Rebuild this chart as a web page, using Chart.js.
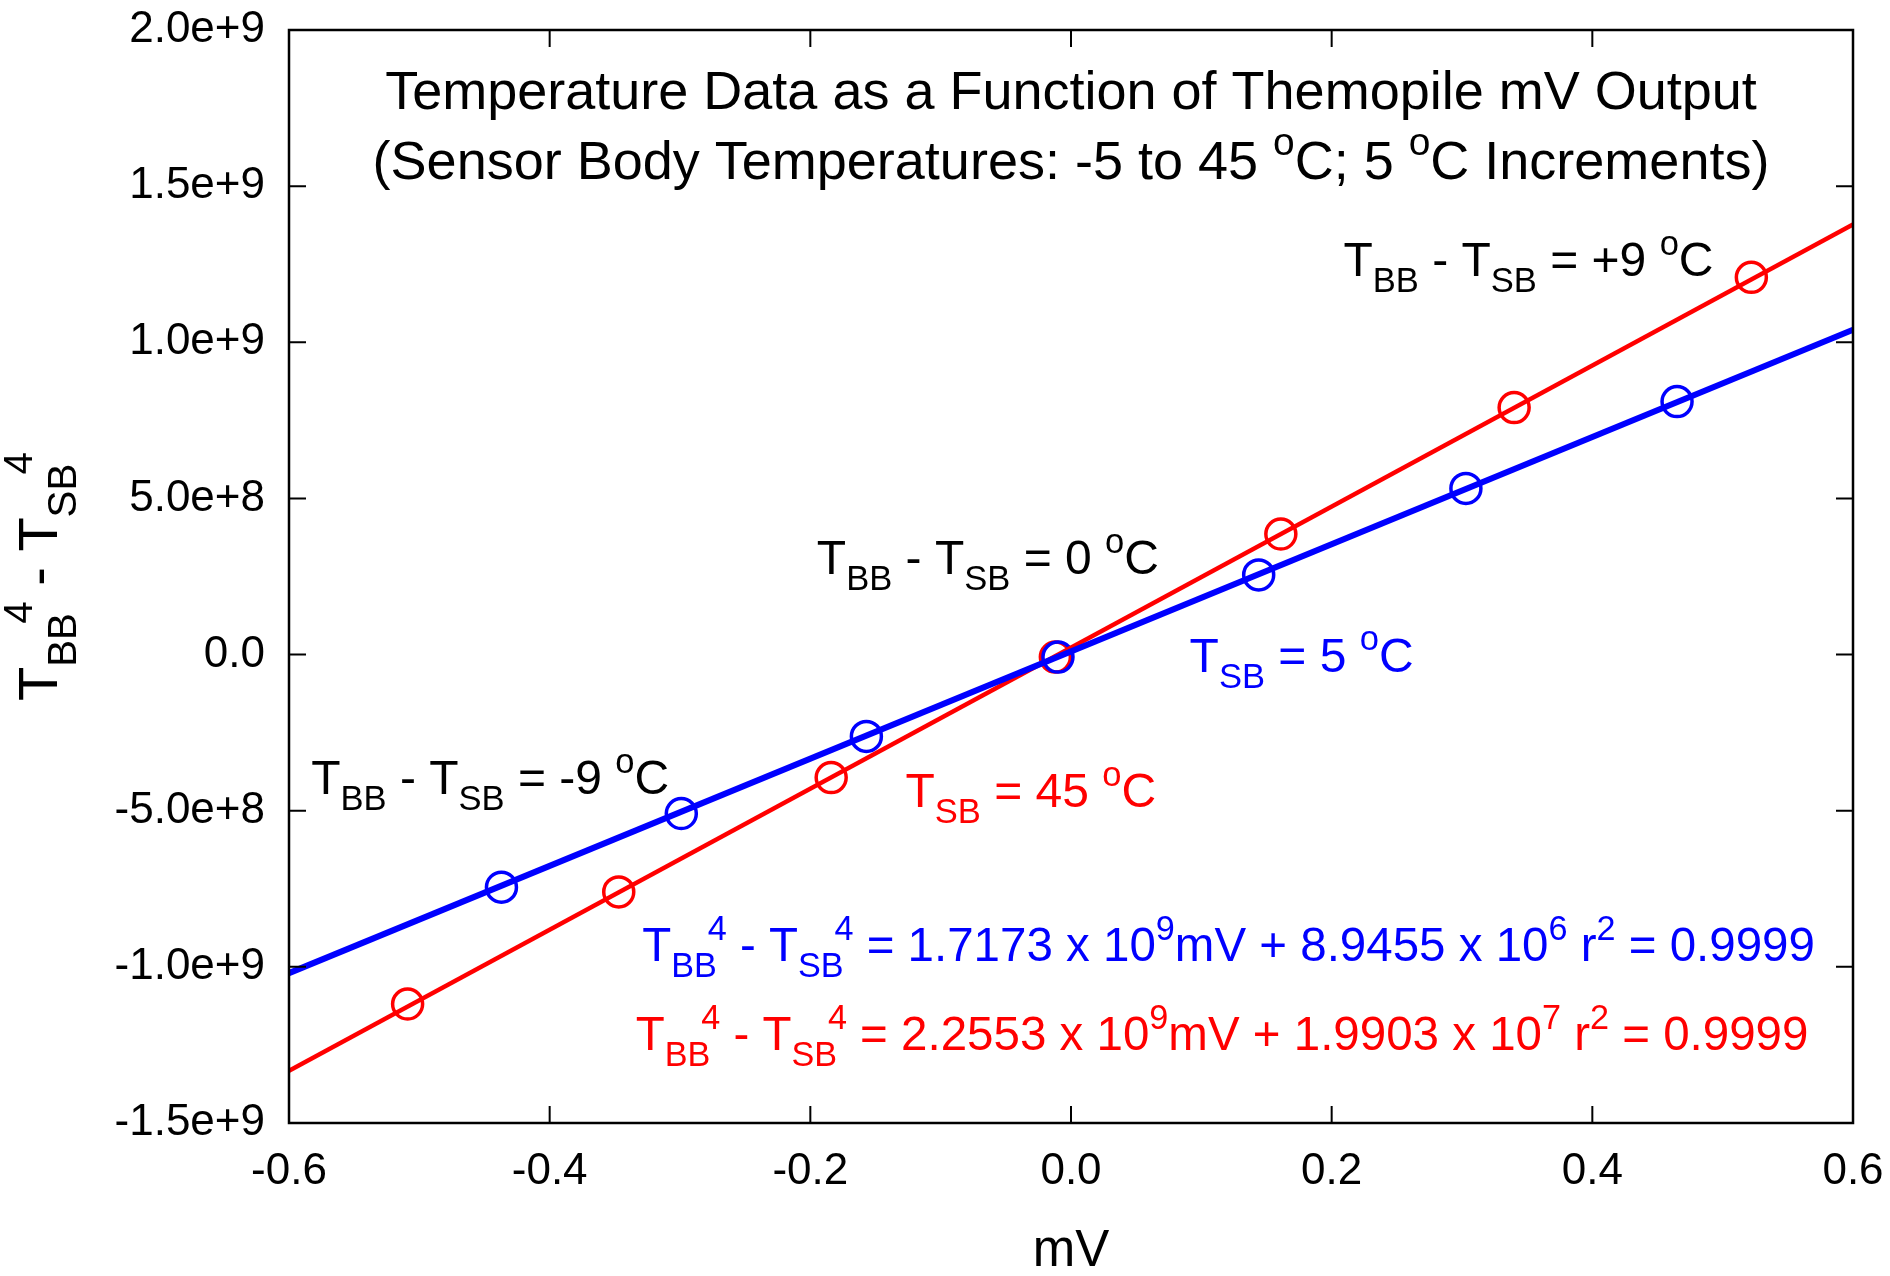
<!DOCTYPE html>
<html>
<head>
<meta charset="utf-8">
<title>Thermopile mV output</title>
<script src="https://cdn.jsdelivr.net/npm/chart.js@4.4.0/dist/chart.umd.min.js"></script>
<style>
    html, body { margin: 0; padding: 0; background: #fff; }
    canvas { display: block; }
</style>
</head>
<body>
<canvas id="thermoChart" width="1890" height="1276"></canvas>
<script>
'use strict'

// measured points (mV, T_BB^4 - T_SB^4)
const blueX = [-0.437, -0.299, -0.157, -0.010, 0.144, 0.303, 0.465];
const blueY = [-7.45e8, -5.09e8, -2.62e8, -0.08e8, 2.55e8, 5.32e8, 8.10e8];
const redX = [-0.509, -0.347, -0.184, -0.012, 0.161, 0.340, 0.522];
const redY = [-1.119e9, -7.60e8, -3.94e8, -0.08e8, 3.86e8, 7.91e8, 1.208e9];

// regression lines, end points
const fitX = [-0.6, 0.6];
const blueFitY = [-1.020e9, 1.040e9];
const redFitY = [-1.333e9, 1.377e9];

const xTicks = [-0.6, -0.4, -0.2, 0.0, 0.2, 0.4, 0.6];
const yTicks = [-1.5e9, -1.0e9, -5.0e8, 0, 5.0e8, 1.0e9, 1.5e9, 2.0e9];

const BLUE = '#0000ff';
const RED = '#ff0000';
const FONT = '"Liberation Sans", Arial, Helvetica, sans-serif';
const SCRIPT = 0.72;

const toPoints = (xs, ys) => xs.map((x, i) => ({ x: x, y: ys[i] }));

// text with sub/superscripts: strings are normal text, objects hold sub and/or sup
const titleLines = [
    ['Temperature Data as a Function of Themopile mV Output'],
    ['(Sensor Body Temperatures: -5 to 45 ', { sup: 'o' }, 'C; 5 ', { sup: 'o' }, 'C Increments)']
];
const yTitle = ['T', { sub: 'BB', sup: '4' }, ' - T', { sub: 'SB', sup: '4' }];

const notes = [
    { parts: ['T', { sub: 'BB' }, ' - T', { sub: 'SB' }, ' = +9 ', { sup: 'o' }, 'C'], x: 0.209, y: 1.267e9, color: '#000' },
    { parts: ['T', { sub: 'BB' }, ' - T', { sub: 'SB' }, ' = 0 ', { sup: 'o' }, 'C'], x: -0.195, y: 0.312e9, color: '#000' },
    { parts: ['T', { sub: 'BB' }, ' - T', { sub: 'SB' }, ' = -9 ', { sup: 'o' }, 'C'], x: -0.583, y: -0.392e9, color: '#000' },
    { parts: ['T', { sub: 'SB' }, ' = 5 ', { sup: 'o' }, 'C'], x: 0.091, y: 0.0, color: BLUE },
    { parts: ['T', { sub: 'SB' }, ' = 45 ', { sup: 'o' }, 'C'], x: -0.127, y: -0.434e9, color: RED },
    { parts: ['T', { sub: 'BB', sup: '4' }, ' - T', { sub: 'SB', sup: '4' }, ' = 1.7173 x 10', { sup: '9' }, 'mV + 8.9455 x 10', { sup: '6' }, ' r', { sup: '2' }, ' = 0.9999'], x: -0.329, y: -0.927e9, color: BLUE, size: 47.5 },
    { parts: ['T', { sub: 'BB', sup: '4' }, ' - T', { sub: 'SB', sup: '4' }, ' = 2.2553 x 10', { sup: '9' }, 'mV + 1.9903 x 10', { sup: '7' }, ' r', { sup: '2' }, ' = 0.9999'], x: -0.334, y: -1.212e9, color: RED, size: 47.5 }
];

const font = size => size + 'px ' + FONT;

// returns width and where the superscript starts (after most of the subscript)
function partLayout(ctx, p, size) {
    if (typeof p === 'string') {
        ctx.font = font(size);
        return { w: ctx.measureText(p).width, supX: 0 };
    }
    ctx.font = font(size * SCRIPT);
    const a = p.sub ? ctx.measureText(p.sub).width : 0;
    const b = p.sup ? ctx.measureText(p.sup).width : 0;
    const supX = a * 0.8;
    return { w: Math.max(a, supX + b), supX: supX };
}

const richWidth = (ctx, parts, size) => parts.reduce((w, p) => w + partLayout(ctx, p, size).w, 0);

// y is the baseline of the normal text
function drawRich(ctx, parts, x, y, size, color) {
    ctx.fillStyle = color;
    ctx.textAlign = 'left';
    ctx.textBaseline = 'alphabetic';
    let cx = x;
    parts.forEach(p => {
        const l = partLayout(ctx, p, size);
        if (typeof p === 'string') {
            ctx.font = font(size);
            ctx.fillText(p, cx, y);
        } else {
            ctx.font = font(size * SCRIPT);
            if (p.sub) ctx.fillText(p.sub, cx, y + size * 0.33);
            if (p.sup) ctx.fillText(p.sup, cx + l.supX, y - size * 0.45);
        }
        cx += l.w;
    });
}

const framePlugin = {
    id: 'frame',
    afterDatasetsDraw(chart) {
        const { ctx, chartArea: a, scales: { x, y } } = chart;
        const len = 17;
        ctx.save();
        ctx.strokeStyle = '#000';
        ctx.lineWidth = 2;
        ctx.beginPath();
        x.ticks.forEach(t => {
            const px = x.getPixelForValue(t.value);
            ctx.moveTo(px, a.bottom); ctx.lineTo(px, a.bottom - len);
            ctx.moveTo(px, a.top); ctx.lineTo(px, a.top + len);
        });
        y.ticks.forEach(t => {
            const py = y.getPixelForValue(t.value);
            ctx.moveTo(a.left, py); ctx.lineTo(a.left + len, py);
            ctx.moveTo(a.right, py); ctx.lineTo(a.right - len, py);
        });
        ctx.stroke();
        ctx.lineWidth = 2.5;
        ctx.strokeRect(a.left, a.top, a.right - a.left, a.bottom - a.top);
        ctx.restore();
    },
    afterDraw(chart) {
        const { ctx, chartArea: a, scales: { x, y } } = chart;
        const cx = (a.left + a.right) / 2;
        ctx.save();

        // title inside plot
        const tSize = 54;
        titleLines.forEach((line, i) => {
            const w = richWidth(ctx, line, tSize);
            drawRich(ctx, line, cx - w / 2, 90 + i * 70 + tSize * 0.36, tSize, '#000');
        });

        // annotations
        notes.forEach(n => {
            const s = n.size || 48;
            drawRich(ctx, n.parts, x.getPixelForValue(n.x), y.getPixelForValue(n.y) + s * 0.36, s, n.color);
        });

        // axis titles
        ctx.font = font(51);
        ctx.fillStyle = '#000';
        ctx.textAlign = 'center';
        ctx.textBaseline = 'middle';
        ctx.fillText('mV', cx, 1252);

        const ySize = 56;
        const yw = richWidth(ctx, yTitle, ySize);
        ctx.translate(37, (a.top + a.bottom) / 2);
        ctx.rotate(-Math.PI / 2);
        drawRich(ctx, yTitle, -yw / 2, ySize * 0.36, ySize, '#000');
        ctx.restore();
    }
};

const canvas = document.querySelector('#thermoChart');
new Chart(canvas, {
    type: 'scatter',
    data: {
        datasets: [
            {
                label: 'fit 5 C',
                data: toPoints(fitX, blueFitY),
                showLine: true,
                borderColor: BLUE,
                borderWidth: 6,
                pointRadius: 0
            },
            {
                label: 'fit 45 C',
                data: toPoints(fitX, redFitY),
                showLine: true,
                borderColor: RED,
                borderWidth: 4.5,
                pointRadius: 0
            },
            {
                label: 'T_SB = 5 C',
                data: toPoints(blueX, blueY),
                showLine: false,
                borderColor: BLUE,
                backgroundColor: 'rgba(0,0,0,0)',
                borderWidth: 3.5,
                pointRadius: 15
            },
            {
                label: 'T_SB = 45 C',
                data: toPoints(redX, redY),
                showLine: false,
                borderColor: RED,
                backgroundColor: 'rgba(0,0,0,0)',
                borderWidth: 3.5,
                pointRadius: 15
            }
        ]
    },
    options: {
        responsive: false,
        animation: false,
        layout: { padding: { top: 30, right: 37, bottom: 0, left: 0 } },
        plugins: {
            legend: { display: false },
            tooltip: { enabled: false }
        },
        scales: {
            x: {
                type: 'linear',
                min: -0.6,
                max: 0.6,
                afterBuildTicks: scale => { scale.ticks = xTicks.map(v => ({ value: v })); },
                afterFit: scale => {
                    scale.height = 153;
                    scale.paddingLeft = 0;
                    scale.paddingRight = 0;
                },
                grid: { display: false, drawTicks: false },
                border: { display: false },
                ticks: {
                    padding: 22,
                    color: '#000',
                    font: { family: FONT, size: 44 },
                    callback: v => Math.abs(v) < 1e-9 ? '0.0' : v.toFixed(1)
                }
            },
            y: {
                type: 'linear',
                min: -1.5e9,
                max: 2.0e9,
                afterBuildTicks: scale => { scale.ticks = yTicks.map(v => ({ value: v })); },
                afterFit: scale => {
                    scale.width = 289;
                    scale.paddingTop = 0;
                    scale.paddingBottom = 0;
                },
                grid: { display: false, drawTicks: false },
                border: { display: false },
                ticks: {
                    padding: 24,
                    color: '#000',
                    font: { family: FONT, size: 44 },
                    callback: v => v === 0 ? '0.0' : v.toExponential(1)
                }
            }
        }
    },
    plugins: [framePlugin]
});
</script>
</body>
</html>
